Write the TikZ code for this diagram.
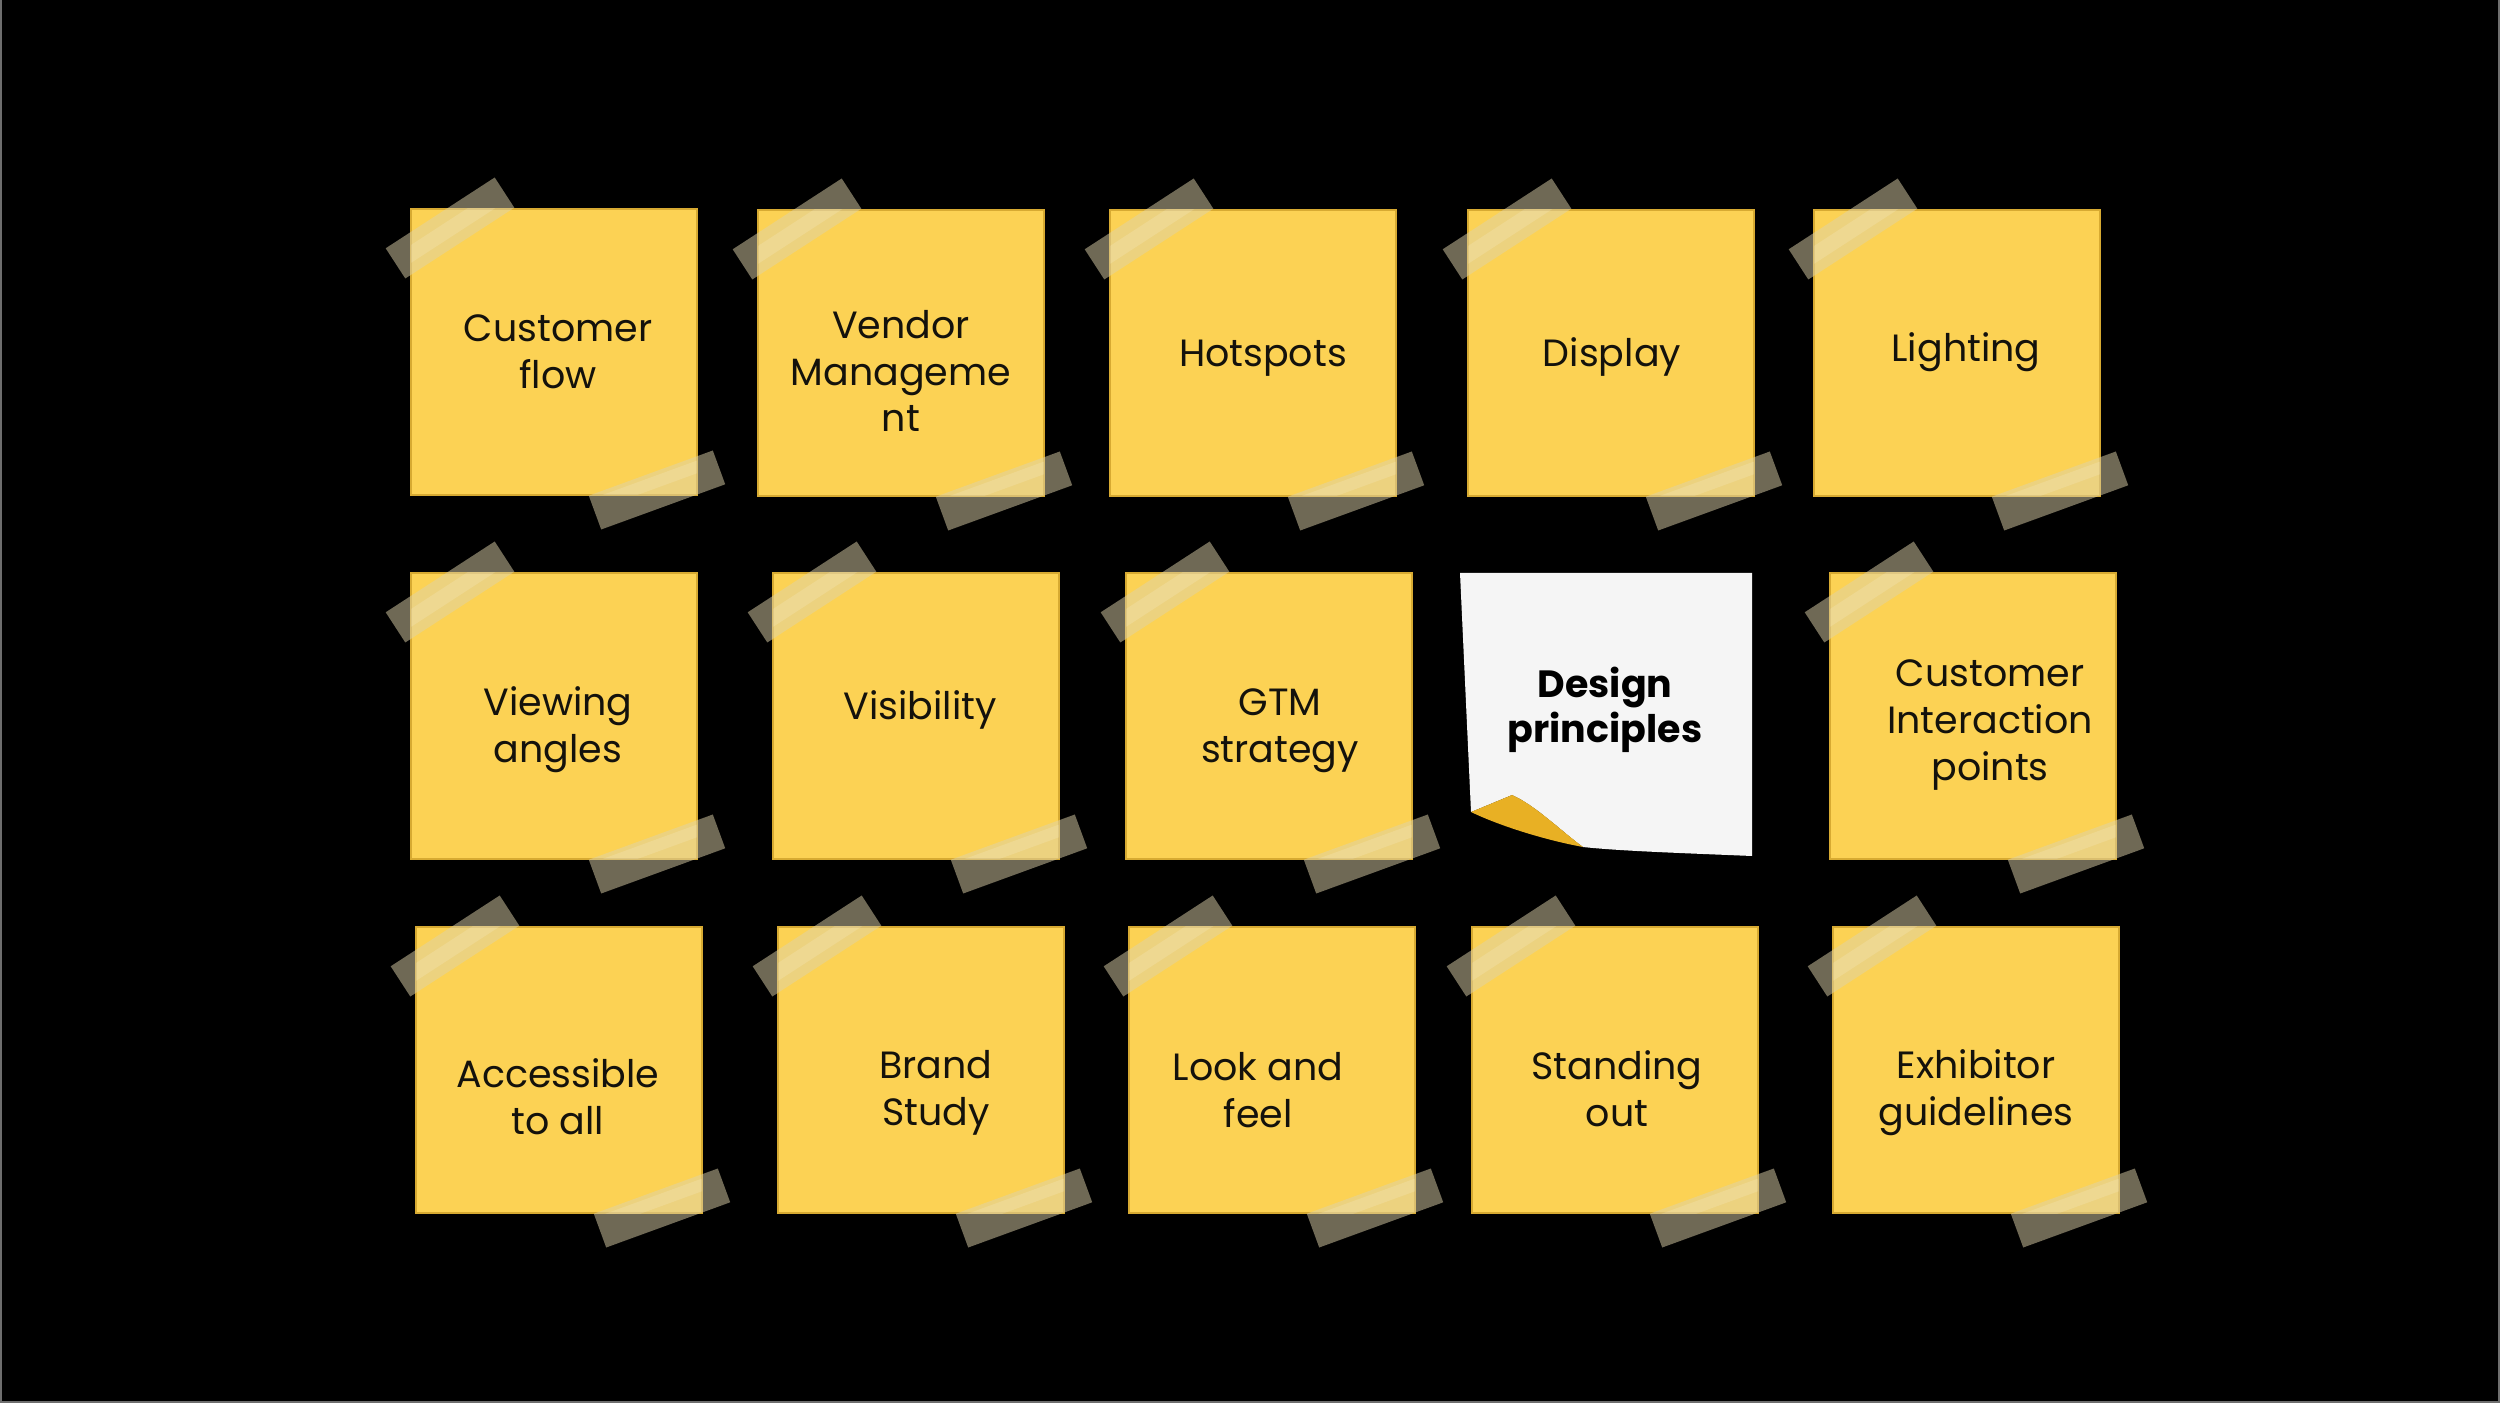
\documentclass[tikz,border=0pt]{standalone}
\usepackage{fontspec}
\setmainfont{Poppins}
\definecolor{notey}{RGB}{252,210,84}
\definecolor{noteedge}{RGB}{215,170,50}
\definecolor{tapecol}{RGB}{222,210,170}
\definecolor{ink}{RGB}{20,18,12}
\definecolor{paper}{RGB}{245,245,245}
\definecolor{curl}{RGB}{232,176,36}
\definecolor{frame}{RGB}{110,110,110}
\tikzset{
  notebox/.style={draw=noteedge, line width=0.4pt, fill=notey, minimum size=2.86cm, inner sep=0pt},
  notetext/.style={font=\fontsize{10.8}{13.3}\selectfont, text=ink, align=center, inner sep=0pt},
  boldtext/.style={font=\fontsize{10.8}{12.8}\selectfont\bfseries, text=black, align=center, inner sep=0pt},
  tapefill/.style={fill=tapecol, fill opacity=0.5},
  glare/.style={fill=white, fill opacity=0.14},
}
\newcommand\stickynote[6]{%
  \begin{scope}[shift={(#2,#3)}]
    \node[notebox] (#1) at (143,143) {};
    \fill[tapefill] (-25.3,39.3) -- (83.7,-31.5) -- (103.3,-1.3) -- (-5.7,69.5) -- cycle;
    \fill[tapefill] (177.8,286.7) -- (301.8,241.5) -- (314.2,275.3) -- (190.2,320.5) -- cycle;
    \begin{scope}
      \clip (0,0) rectangle (286,286);
      \fill[glare] (-19.3,48.5) -- (89.7,-22.3) -- (97.9,-9.7) -- (-11.1,61.1) -- cycle;
      \fill[glare] (179.2,290.5) -- (303.2,245.3) -- (307.3,256.5) -- (183.3,301.7) -- cycle;
    \end{scope}
    \node[notetext] (#1t) at (#4,#5) {#6};
  \end{scope}}
\begin{document}
\begin{tikzpicture}[x=0.01cm,y=-0.01cm]
\useasboundingbox (0,0) rectangle (2500,1407);
\fill[white] (0,0) rectangle (2500,1407);
\fill[black] (0,0) rectangle (2500,1403);
\draw[frame, line width=0.02cm] (1,0) -- (1,1402) -- (2499,1402) -- (2499,0);

% row 1
\stickynote{n1}{411}{209}{147}{143}{Customer\\flow}
\stickynote{n2}{758}{210}{143}{161}{Vendor\\Manageme\\nt}
\stickynote{n3}{1110}{210}{153}{148}{Hotspots}
\stickynote{n4}{1468}{210}{144}{147}{Display}
\stickynote{n5}{1814}{210}{152}{142}{Lighting}
% row 2
\stickynote{n6}{411}{573}{147}{157}{Viewing\\angles}
\stickynote{n7}{773}{573}{147}{137}{Visibility}
\stickynote{n8}{1126}{573}{154}{158}{GTM\\strategy}
\stickynote{n10}{1830}{573}{160}{152}{Customer\\Interaction\\points}
% row 3
\stickynote{n11}{416}{927}{142}{170}{Accessible\\to all}
\stickynote{n12}{778}{927}{158}{166}{Brand\\Study}
\stickynote{n13}{1129}{927}{129}{163}{Look and\\feel}
\stickynote{n14}{1472}{927}{145}{162}{Standing\\out}
\stickynote{n15}{1833}{927}{143}{166}{Exhibitor\\guidelines}

% white curled note
\fill[paper] (1460,573) -- (1752,573) -- (1752,856)
  .. controls (1680,853) and (1620,851) .. (1583,847)
  .. controls (1560,830) and (1535,805) .. (1512,795)
  -- (1471,812) -- cycle;
\fill[curl] (1471,812) -- (1512,795)
  .. controls (1535,805) and (1560,830) .. (1583,847)
  .. controls (1545,840) and (1500,826) .. (1471,812) -- cycle;
\node[boldtext] (n9) at (1605,710) {Design\\principles};
\end{tikzpicture}
\end{document}
